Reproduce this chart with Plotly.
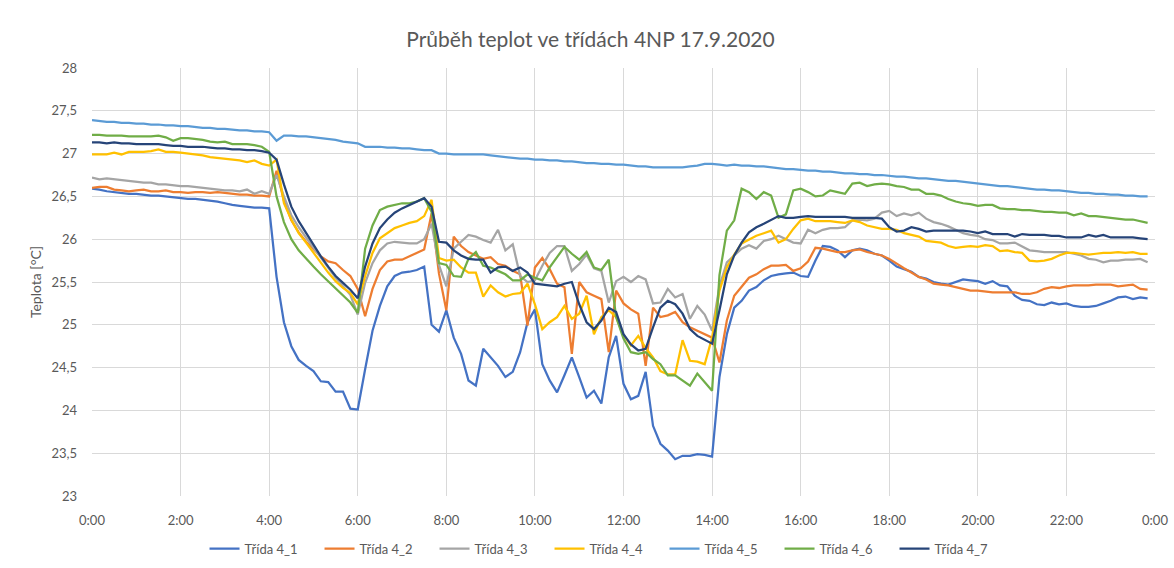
import pandas as pd
import plotly.graph_objects as go

# 10-minute readings, 17.9.2020 (0:00 .. 23:50)
times = pd.date_range("2020-09-17 00:00", periods=144, freq="10min")

t4_1 = [26.59, 26.58, 26.56, 26.55, 26.54, 26.53, 26.53, 26.52, 26.51, 26.51, 26.50, 26.49,
        26.48, 26.47, 26.47, 26.46, 26.45, 26.44, 26.42, 26.40, 26.39, 26.38, 26.37, 26.37,
        26.36, 25.56, 25.03, 24.75, 24.59, 24.52, 24.46, 24.34, 24.33, 24.22, 24.22, 24.02,
        24.01, 24.48, 24.93, 25.22, 25.45, 25.57, 25.61, 25.62, 25.64, 25.68, 25.00, 24.92,
        25.17, 24.85, 24.66, 24.35, 24.29, 24.72, 24.62, 24.52, 24.39, 24.45, 24.68, 25.03,
        25.18, 24.54, 24.35, 24.21, 24.41, 24.62, 24.39, 24.15, 24.23, 24.08, 24.62, 24.87,
        24.31, 24.13, 24.17, 24.45, 23.82, 23.61, 23.53, 23.43, 23.47, 23.47, 23.49, 23.48,
        23.46, 24.39, 24.89, 25.20, 25.28, 25.40, 25.44, 25.52, 25.57, 25.59, 25.60, 25.61,
        25.57, 25.56, 25.75, 25.92, 25.91, 25.87, 25.79, 25.87, 25.89, 25.87, 25.83, 25.81,
        25.75, 25.68, 25.65, 25.62, 25.56, 25.54, 25.50, 25.48, 25.47, 25.50, 25.53, 25.52,
        25.51, 25.48, 25.51, 25.46, 25.45, 25.34, 25.29, 25.28, 25.24, 25.23, 25.26, 25.24,
        25.25, 25.22, 25.21, 25.21, 25.22, 25.25, 25.28, 25.32, 25.33, 25.30, 25.32, 25.31]

t4_2 = [26.60, 26.61, 26.61, 26.58, 26.57, 26.56, 26.57, 26.58, 26.56, 26.56, 26.57, 26.55,
        26.55, 26.54, 26.55, 26.55, 26.54, 26.55, 26.54, 26.53, 26.52, 26.52, 26.51, 26.51,
        26.50, 26.80, 26.45, 26.22, 26.08, 25.97, 25.88, 25.80, 25.74, 25.72, 25.64, 25.57,
        25.42, 25.10, 25.42, 25.64, 25.74, 25.76, 25.76, 25.80, 25.84, 25.88, 26.30, 25.60,
        25.17, 26.03, 25.92, 25.85, 25.81, 25.77, 25.79, 25.71, 25.69, 25.63, 25.59, 24.99,
        25.67, 25.78, 25.65, 25.48, 25.44, 24.66, 25.50, 25.38, 25.34, 25.30, 24.68, 25.40,
        25.25, 25.18, 25.13, 24.52, 25.20, 25.09, 25.11, 25.15, 25.03, 24.97, 24.93, 24.89,
        24.85, 24.56, 25.05, 25.34, 25.44, 25.55, 25.59, 25.65, 25.69, 25.69, 25.70, 25.63,
        25.66, 25.74, 25.90, 25.89, 25.87, 25.85, 25.85, 25.87, 25.88, 25.85, 25.83, 25.81,
        25.77, 25.71, 25.66, 25.61, 25.56, 25.53, 25.48, 25.47, 25.46, 25.44, 25.42, 25.40,
        25.40, 25.39, 25.38, 25.38, 25.38, 25.38, 25.36, 25.36, 25.38, 25.42, 25.44, 25.43,
        25.45, 25.46, 25.46, 25.46, 25.47, 25.47, 25.47, 25.45, 25.46, 25.47, 25.42, 25.41]

t4_3 = [26.72, 26.70, 26.71, 26.70, 26.69, 26.68, 26.67, 26.66, 26.66, 26.64, 26.64, 26.63,
        26.62, 26.62, 26.61, 26.60, 26.59, 26.58, 26.57, 26.57, 26.56, 26.58, 26.53, 26.56,
        26.53, 26.75, 26.50, 26.28, 26.14, 26.02, 25.90, 25.79, 25.67, 25.55, 25.45, 25.35,
        25.12, 25.49, 25.72, 25.87, 25.95, 25.97, 25.96, 25.95, 25.95, 26.00, 26.18, 25.70,
        25.45, 25.89, 25.97, 26.05, 26.03, 25.99, 25.96, 26.11, 25.87, 25.94, 25.57, 25.50,
        25.52, 25.69, 25.84, 25.92, 25.92, 25.63, 25.71, 25.82, 25.66, 25.63, 25.26, 25.51,
        25.56, 25.50, 25.57, 25.53, 25.25, 25.26, 25.42, 25.32, 25.36, 25.07, 25.22, 25.12,
        24.93, 25.45, 25.73, 25.81, 25.89, 25.93, 25.89, 25.98, 26.00, 26.04, 26.00, 25.96,
        25.95, 26.11, 26.07, 26.11, 26.13, 26.13, 26.14, 26.22, 26.23, 26.22, 26.24, 26.31,
        26.33, 26.27, 26.30, 26.28, 26.31, 26.24, 26.20, 26.18, 26.15, 26.11, 26.07, 26.05,
        26.04, 26.00, 25.99, 25.95, 25.95, 25.96, 25.91, 25.87, 25.86, 25.85, 25.85, 25.85,
        25.85, 25.83, 25.81, 25.77, 25.76, 25.73, 25.75, 25.75, 25.76, 25.76, 25.77, 25.73]

t4_4 = [26.99, 26.99, 26.99, 27.01, 26.99, 27.02, 27.02, 27.02, 27.03, 27.05, 27.02, 27.02,
        27.01, 27.00, 26.99, 26.98, 26.96, 26.95, 26.94, 26.93, 26.92, 26.90, 26.92, 26.88,
        26.86, 26.93, 26.42, 26.23, 26.07, 25.96, 25.84, 25.72, 25.61, 25.51, 25.43, 25.37,
        25.24, 25.57, 25.84, 26.01, 26.07, 26.13, 26.16, 26.19, 26.21, 26.27, 26.46, 25.78,
        25.75, 25.76, 25.67, 25.61, 25.61, 25.33, 25.46, 25.38, 25.33, 25.36, 25.37, 25.48,
        25.24, 24.95, 25.03, 25.09, 25.22, 25.07, 25.13, 25.34, 24.89, 25.09, 25.17, 25.09,
        24.88, 24.76, 24.87, 24.73, 24.62, 24.46, 24.42, 24.42, 24.82, 24.58, 24.57, 24.54,
        24.85, 25.40, 25.67, 25.82, 25.95, 26.00, 26.04, 26.07, 26.10, 25.96, 26.00, 26.12,
        26.22, 26.24, 26.21, 26.21, 26.21, 26.20, 26.19, 26.22, 26.20, 26.16, 26.14, 26.12,
        26.12, 26.11, 26.07, 26.05, 26.03, 25.98, 25.97, 25.96, 25.92, 25.90, 25.91, 25.92,
        25.91, 25.93, 25.92, 25.86, 25.87, 25.85, 25.84, 25.75, 25.74, 25.75, 25.77, 25.81,
        25.84, 25.84, 25.83, 25.82, 25.83, 25.84, 25.84, 25.85, 25.84, 25.85, 25.83, 25.83]

t4_5 = [27.39, 27.38, 27.37, 27.37, 27.36, 27.36, 27.35, 27.35, 27.34, 27.34, 27.33, 27.33,
        27.32, 27.32, 27.31, 27.30, 27.30, 27.29, 27.29, 27.28, 27.27, 27.27, 27.26, 27.26,
        27.25, 27.15, 27.21, 27.21, 27.20, 27.20, 27.19, 27.18, 27.17, 27.16, 27.14, 27.13,
        27.12, 27.08, 27.08, 27.08, 27.07, 27.07, 27.06, 27.06, 27.05, 27.04, 27.04, 27.00,
        27.00, 26.99, 26.99, 26.99, 26.99, 26.99, 26.98, 26.97, 26.96, 26.95, 26.94, 26.94,
        26.93, 26.93, 26.92, 26.92, 26.91, 26.91, 26.90, 26.89, 26.89, 26.88, 26.88, 26.87,
        26.87, 26.86, 26.85, 26.85, 26.84, 26.84, 26.84, 26.84, 26.84, 26.85, 26.86, 26.88,
        26.88, 26.87, 26.86, 26.87, 26.86, 26.86, 26.85, 26.85, 26.84, 26.83, 26.82, 26.82,
        26.81, 26.80, 26.80, 26.79, 26.79, 26.78, 26.77, 26.77, 26.76, 26.76, 26.75, 26.75,
        26.74, 26.73, 26.73, 26.72, 26.71, 26.71, 26.70, 26.69, 26.68, 26.68, 26.67, 26.66,
        26.65, 26.64, 26.63, 26.62, 26.62, 26.61, 26.60, 26.59, 26.58, 26.58, 26.57, 26.57,
        26.56, 26.55, 26.54, 26.54, 26.53, 26.53, 26.52, 26.52, 26.51, 26.51, 26.50, 26.50]

t4_6 = [27.22, 27.22, 27.21, 27.21, 27.21, 27.20, 27.20, 27.20, 27.20, 27.21, 27.19, 27.15,
        27.18, 27.18, 27.17, 27.16, 27.14, 27.13, 27.14, 27.11, 27.11, 27.11, 27.10, 27.08,
        27.02, 26.50, 26.20, 26.00, 25.87, 25.77, 25.68, 25.59, 25.51, 25.43, 25.34, 25.26,
        25.14, 25.89, 26.16, 26.34, 26.38, 26.40, 26.42, 26.42, 26.44, 26.48, 26.32, 25.72,
        25.70, 25.57, 25.56, 25.77, 25.85, 25.69, 25.67, 25.63, 25.59, 25.52, 25.52, 25.59,
        25.55, 25.52, 25.67, 25.79, 25.91, 25.83, 25.76, 25.85, 25.67, 25.64, 25.76, 25.09,
        24.84, 24.68, 24.66, 24.68, 24.60, 24.54, 24.41, 24.41, 24.35, 24.29, 24.43, 24.33,
        24.23, 25.58, 26.10, 26.22, 26.59, 26.55, 26.47, 26.55, 26.51, 26.25, 26.29, 26.57,
        26.59, 26.55, 26.50, 26.51, 26.57, 26.55, 26.53, 26.65, 26.66, 26.62, 26.64, 26.65,
        26.64, 26.62, 26.61, 26.58, 26.58, 26.53, 26.53, 26.51, 26.47, 26.44, 26.42, 26.41,
        26.39, 26.40, 26.40, 26.36, 26.35, 26.35, 26.34, 26.34, 26.33, 26.32, 26.32, 26.31,
        26.31, 26.28, 26.30, 26.27, 26.27, 26.26, 26.25, 26.24, 26.23, 26.23, 26.21, 26.19]

t4_7 = [27.13, 27.13, 27.12, 27.13, 27.12, 27.12, 27.11, 27.11, 27.11, 27.11, 27.10, 27.09,
        27.09, 27.08, 27.08, 27.08, 27.07, 27.06, 27.06, 27.05, 27.05, 27.04, 27.04, 27.03,
        27.01, 26.93, 26.64, 26.38, 26.21, 26.07, 25.94, 25.80, 25.68, 25.57, 25.49, 25.41,
        25.31, 25.68, 25.95, 26.13, 26.23, 26.31, 26.36, 26.40, 26.44, 26.48, 26.38, 25.97,
        25.96, 25.87, 25.81, 25.77, 25.76, 25.76, 25.61, 25.67, 25.68, 25.63, 25.67, 25.61,
        25.48, 25.47, 25.46, 25.45, 25.48, 25.50, 25.24, 25.03, 24.95, 25.05, 25.20, 25.15,
        24.89, 24.77, 24.70, 24.72, 24.97, 25.20, 25.28, 25.24, 25.13, 24.95, 24.87, 24.82,
        24.78, 25.17, 25.59, 25.81, 25.96, 26.08, 26.14, 26.18, 26.23, 26.27, 26.25, 26.25,
        26.26, 26.27, 26.26, 26.26, 26.26, 26.26, 26.26, 26.25, 26.25, 26.25, 26.25, 26.24,
        26.14, 26.09, 26.10, 26.14, 26.12, 26.09, 26.10, 26.10, 26.10, 26.10, 26.10, 26.09,
        26.07, 26.09, 26.06, 26.06, 26.06, 26.03, 26.06, 26.05, 26.05, 26.05, 26.04, 26.04,
        26.02, 26.02, 26.02, 26.05, 26.03, 26.05, 26.02, 26.02, 26.02, 26.02, 26.01, 26.00]

names = ["Třída 4_1", "Třída 4_2", "Třída 4_3", "Třída 4_4", "Třída 4_5", "Třída 4_6", "Třída 4_7"]
series = [t4_1, t4_2, t4_3, t4_4, t4_5, t4_6, t4_7]
colors = ["#4472C4", "#ED7D31", "#A5A5A5", "#FFC000", "#5B9BD5", "#70AD47", "#264478"]

FONT = "Lato, 'Open Sans', sans-serif"
GREY = "#595959"

fig = go.Figure()
for name, vals, col in zip(names, series, colors):
    fig.add_trace(go.Scatter(x=times, y=vals, name=name, mode="lines",
                             line=dict(color=col, width=2.25)))

fig.update_layout(
    width=1174, height=568,
    paper_bgcolor="white", plot_bgcolor="white",
    separators=", ",
    font=dict(family=FONT, color=GREY, size=13),
    title=dict(text="Průběh teplot ve třídách 4NP 17.9.2020", x=0.503, xanchor="center",
               y=0.93, yanchor="middle", yref="container",
               font=dict(size=21, color=GREY, family=FONT)),
    margin=dict(l=92, r=19, t=68, b=72),
    showlegend=True,
    legend=dict(orientation="h", x=0.4845, xanchor="center",
                y=0.034, yref="container", yanchor="middle",
                entrywidth=70, entrywidthmode="pixels", font=dict(size=13, color=GREY),
                itemwidth=30, tracegroupgap=0),
)

fig.update_xaxes(
    type="date", range=["2020-09-17 00:00", "2020-09-18 00:00"],
    dtick=2 * 3600 * 1000, tick0="2020-09-17 00:00", tickformat="%-H:%M",
    showgrid=True, gridcolor="#D9D9D9", gridwidth=1, zeroline=False, showline=False,
    tickfont=dict(size=13, color=GREY), ticklabelstandoff=15, automargin=False,
)
fig.update_yaxes(
    range=[23, 28], dtick=0.5, tick0=23,
    showgrid=True, gridcolor="#D9D9D9", gridwidth=1, zeroline=False, showline=False,
    tickfont=dict(size=13, color=GREY), ticklabelstandoff=14, automargin=False,
    title=dict(text="Teplota [°C]", font=dict(size=14, color=GREY), standoff=6),
)

# page body has a default 8px margin; drop it so the chart sits at the window corner
fig.write_html("out.html", config={"displayModeBar": False},
               post_script="document.body.style.margin='0';")
